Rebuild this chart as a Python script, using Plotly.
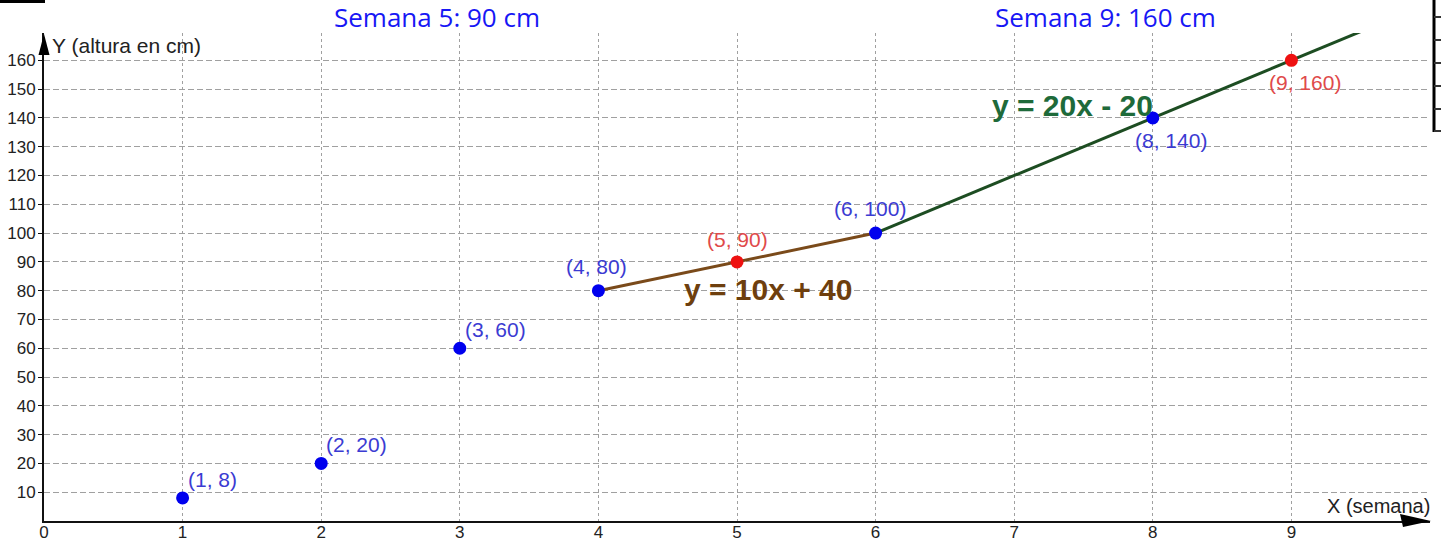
import plotly.graph_objects as go

W, H = 1449, 547
L, R, T, B = 44, 19, 33, 26

semanas = [1, 2, 3, 4, 5, 6, 8, 9]
alturas = [8, 20, 60, 80, 90, 100, 140, 160]
destacados = [5, 9]
etiquetas = ["(1, 8)", "(2, 20)", "(3, 60)", "(4, 80)", "(5, 90)", "(6, 100)", "(8, 140)", "(9, 160)"]

tramo1_x = [4, 6]
tramo1_y = [80, 100]
tramo2_x = [6, 10]
tramo2_y = [20 * x - 20 for x in tramo2_x]

x_ticks = list(range(0, 10))
y_ticks = list(range(10, 170, 10))

BLUE = "#0000ee"
RED = "#ee1111"
LBL_BLUE = "#3b3bd2"
LBL_RED = "#e04a4a"
BROWN = "#6e3f0e"
GREEN = "#1d4d22"


def px(xp):
    return (xp - L) / (W - L - R)


def py(yp):
    return (H - B - yp) / (H - T - B)


fig = go.Figure()

fig.add_trace(go.Scatter(x=tramo1_x, y=tramo1_y, mode="lines",
                         line=dict(color="#7a4a1a", width=3), showlegend=False))
fig.add_trace(go.Scatter(x=tramo2_x, y=tramo2_y, mode="lines",
                         line=dict(color=GREEN, width=3), showlegend=False))

colores = [RED if s in destacados else BLUE for s in semanas]
fig.add_trace(go.Scatter(x=semanas, y=alturas, mode="markers",
                         marker=dict(color=colores, size=13, line=dict(width=0)),
                         showlegend=False, cliponaxis=False))

# etiquetas de los puntos: (xanchor, yanchor, xshift, yshift)
pos = {
    1: ("left", "bottom", 3, 5),
    2: ("left", "bottom", 3, 5),
    3: ("left", "bottom", 3, 5),
    4: ("center", "bottom", -2, 11),
    5: ("center", "bottom", 0, 9),
    6: ("center", "bottom", -6, 11),
    8: ("center", "top", 18, -9),
    9: ("center", "top", 14, -9),
}
for s, a, t in zip(semanas, alturas, etiquetas):
    xa, ya, xs, ys = pos[s]
    fig.add_annotation(x=s, y=a, text=t, showarrow=False, xanchor=xa, yanchor=ya,
                       xshift=xs, yshift=ys,
                       font=dict(family="Liberation Sans", size=21,
                                 color=LBL_RED if s in destacados else LBL_BLUE))

fig.add_annotation(x=5.23, y=80, text="<b>y = 10x + 40</b>", showarrow=False,
                   xanchor="center", yanchor="middle", yshift=1,
                   font=dict(family="Liberation Sans", size=30, color=BROWN))
fig.add_annotation(x=7.42, y=144, text="<b>y = 20x - 20</b>", showarrow=False,
                   xanchor="center", yanchor="middle", yshift=1,
                   font=dict(family="Liberation Sans", size=30, color="#1e6a3a"))

fig.add_annotation(x=0, y=1, xref="x", yref="paper", text="Y (altura en cm)", showarrow=False,
                   xanchor="left", yanchor="middle", xshift=6, yshift=-12,
                   font=dict(family="Liberation Sans", size=21, color="#222"))
fig.add_annotation(x=10, y=0, xref="x", yref="y", text="X (semana)", showarrow=False,
                   xanchor="right", yanchor="bottom", xshift=2, yshift=2,
                   font=dict(family="Liberation Sans", size=20, color="#222"))

for txt, xc in [("Semana 5: 90 cm", 437), ("Semana 9: 160 cm", 1105)]:
    fig.add_annotation(x=px(xc), y=py(17), xref="paper", yref="paper", text=txt,
                       showarrow=False, xanchor="center", yanchor="middle",
                       font=dict(family="Open Sans", size=26, color="#1717f5"))

# flechas de los ejes
fig.add_shape(type="path", xref="paper", yref="paper",
              path=f"M {px(44)},{py(34)} L {px(38.5)},{py(55)} L {px(49.5)},{py(55)} Z",
              fillcolor="black", line=dict(width=0))
fig.add_shape(type="path", xref="paper", yref="paper",
              path=f"M {px(1431)},{py(521)} L {px(1400)},{py(514)} L {px(1403)},{py(527)} Z",
              fillcolor="black", line=dict(width=0))

# marcas del recorte original
fig.add_shape(type="rect", xref="paper", yref="paper",
              x0=px(0), x1=px(45), y0=py(0), y1=py(3),
              fillcolor="black", line=dict(width=0))
fig.add_shape(type="line", xref="paper", yref="paper",
              x0=px(1434), x1=px(1434), y0=py(0), y1=py(132),
              line=dict(color="black", width=3))
for yp in [17, 40, 63, 86, 109, 131]:
    fig.add_shape(type="line", xref="paper", yref="paper",
                  x0=px(1434), x1=px(1441), y0=py(yp), y1=py(yp),
                  line=dict(color="#333", width=2))

fig.update_xaxes(range=[0, 10], tickvals=x_ticks, ticktext=[str(v) for v in x_ticks],
                 showgrid=True, gridcolor="#a0a0a0", griddash="3px,3px", gridwidth=1,
                 showline=True, linecolor="#111", linewidth=2, automargin=False,
                 ticks="", ticklabelstandoff=-5, zeroline=False,
                 tickfont=dict(family="Liberation Sans", size=17, color="#222"))
fig.update_yaxes(range=[0, 169.5], tickvals=y_ticks, ticktext=[str(v) for v in y_ticks],
                 showgrid=True, gridcolor="#a0a0a0", griddash="6px,3px", gridwidth=1,
                 showline=True, linecolor="#111", linewidth=2, automargin=False,
                 ticks="outside", ticklen=4, tickcolor="#111", zeroline=False,
                 ticklabelstandoff=-1,
                 tickfont=dict(family="Liberation Sans", size=17, color="#222"))

fig.update_layout(width=W, height=H, margin=dict(l=L, r=R, t=T, b=B),
                  plot_bgcolor="white", paper_bgcolor="white", showlegend=False)

# sin el margen de 8px del body, la figura ocupa la ventana completa
fig.write_html("out.html", config={"displayModeBar": False},
               post_script="document.body.style.margin='0';")
